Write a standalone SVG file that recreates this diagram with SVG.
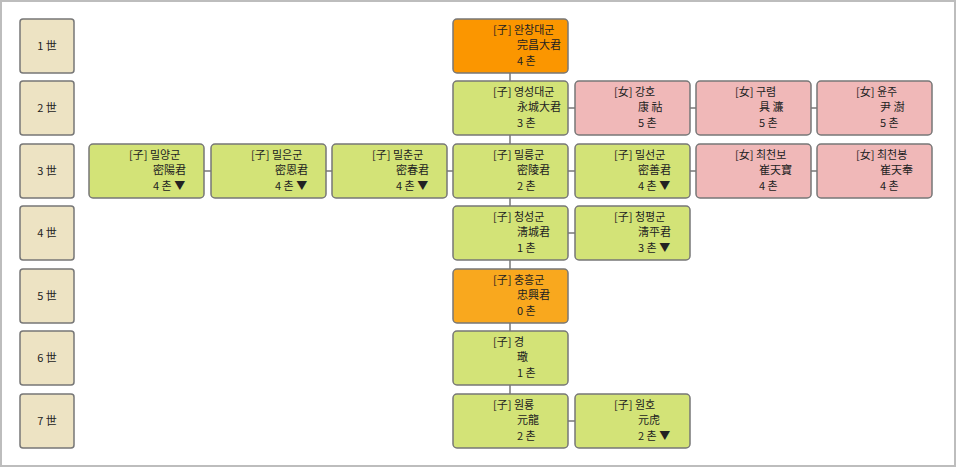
<svg xmlns="http://www.w3.org/2000/svg" width="956" height="467" viewBox="0 0 956 467">
<style>
text{font-family:"Noto Sans CJK KR","Noto Sans CJK SC",sans-serif;font-size:11px;fill:#222}
.g rect{fill:#EDE3C3;stroke:#777;stroke-width:1.5}
.n rect{stroke:#777;stroke-width:1.5}
.gr rect{fill:#D3E377}
.pk rect{fill:#F0B8B8}
.c line{stroke:#777;stroke-width:1.5}
</style>
<rect x="1" y="1" width="954" height="465" fill="#fff" stroke="#BDBDBD" stroke-width="2"/>
<g class="c">
<line x1="510" y1="73" x2="510" y2="394"/>
<line x1="204" y1="171" x2="211" y2="171"/><line x1="326" y1="171" x2="332" y2="171"/><line x1="447" y1="171" x2="453" y2="171"/>
<line x1="568" y1="108" x2="932" y2="108"/><line x1="568" y1="171" x2="932" y2="171"/>
<line x1="568" y1="233" x2="575" y2="233"/><line x1="568" y1="421" x2="575" y2="421"/>
</g>
<g class="g" id="gen1"><rect x="20" y="19" width="54" height="54" rx="3"/><text x="47" y="50" text-anchor="middle">1 世</text></g>
<g class="g" id="gen2"><rect x="20" y="81" width="54" height="54" rx="3"/><text x="47" y="112" text-anchor="middle">2 世</text></g>
<g class="g" id="gen3"><rect x="20" y="144" width="54" height="54" rx="3"/><text x="47" y="175" text-anchor="middle">3 世</text></g>
<g class="g" id="gen4"><rect x="20" y="206" width="54" height="54" rx="3"/><text x="47" y="237" text-anchor="middle">4 世</text></g>
<g class="g" id="gen5"><rect x="20" y="269" width="54" height="54" rx="3"/><text x="47" y="300" text-anchor="middle">5 世</text></g>
<g class="g" id="gen6"><rect x="20" y="331" width="54" height="54" rx="3"/><text x="47" y="362" text-anchor="middle">6 世</text></g>
<g class="g" id="gen7"><rect x="20" y="394" width="54" height="54" rx="3"/><text x="47" y="425" text-anchor="middle">7 世</text></g>

<g class="n" id="n1"><rect x="453" y="19" width="115" height="54" rx="4" fill="#FB9600"/><text x="493" y="34">[子] 완창대군</text><text x="517" y="49">完昌大君</text><text x="517" y="65">4 촌</text></g>
<g class="n gr" id="n2"><rect x="453" y="81" width="115" height="54" rx="4"/><text x="493" y="96">[子] 영성대군</text><text x="517" y="111">永城大君</text><text x="517" y="127">3 촌</text></g>
<g class="n pk" id="n3"><rect x="575" y="81" width="115" height="54" rx="4"/><text x="614" y="96">[女] 강호</text><text x="638" y="111">康 祜</text><text x="638" y="127">5 촌</text></g>
<g class="n pk" id="n4"><rect x="696" y="81" width="115" height="54" rx="4"/><text x="735" y="96">[女] 구렴</text><text x="759" y="111">具 濂</text><text x="759" y="127">5 촌</text></g>
<g class="n pk" id="n5"><rect x="817" y="81" width="115" height="54" rx="4"/><text x="856" y="96">[女] 윤주</text><text x="880" y="111">尹 澍</text><text x="880" y="127">5 촌</text></g>

<g class="n gr" id="n6"><rect x="89" y="144" width="115" height="54" rx="4"/><text x="129" y="159">[子] 밀양군</text><text x="153" y="174">密陽君</text><text x="153" y="190">4 촌 ▼</text></g>
<g class="n gr" id="n7"><rect x="211" y="144" width="115" height="54" rx="4"/><text x="251" y="159">[子] 밀은군</text><text x="275" y="174">密恩君</text><text x="275" y="190">4 촌 ▼</text></g>
<g class="n gr" id="n8"><rect x="332" y="144" width="115" height="54" rx="4"/><text x="372" y="159">[子] 밀춘군</text><text x="396" y="174">密春君</text><text x="396" y="190">4 촌 ▼</text></g>
<g class="n gr" id="n9"><rect x="453" y="144" width="115" height="54" rx="4"/><text x="493" y="159">[子] 밀릉군</text><text x="517" y="174">密陵君</text><text x="517" y="190">2 촌</text></g>
<g class="n gr" id="n10"><rect x="575" y="144" width="115" height="54" rx="4"/><text x="614" y="159">[子] 밀선군</text><text x="638" y="174">密善君</text><text x="638" y="190">4 촌 ▼</text></g>
<g class="n pk" id="n11"><rect x="696" y="144" width="115" height="54" rx="4"/><text x="735" y="159">[女] 최천보</text><text x="759" y="174">崔天寶</text><text x="759" y="190">4 촌</text></g>
<g class="n pk" id="n12"><rect x="817" y="144" width="115" height="54" rx="4"/><text x="856" y="159">[女] 최천봉</text><text x="880" y="174">崔天奉</text><text x="880" y="190">4 촌</text></g>

<g class="n gr" id="n13"><rect x="453" y="206" width="115" height="54" rx="4"/><text x="493" y="221">[子] 청성군</text><text x="517" y="236">淸城君</text><text x="517" y="252">1 촌</text></g>
<g class="n gr" id="n14"><rect x="575" y="206" width="115" height="54" rx="4"/><text x="614" y="221">[子] 청평군</text><text x="638" y="236">淸平君</text><text x="638" y="252">3 촌 ▼</text></g>
<g class="n" id="n15"><rect x="453" y="269" width="115" height="54" rx="4" fill="#F9A81E"/><text x="493" y="284">[子] 충흥군</text><text x="517" y="299">忠興君</text><text x="517" y="315">0 촌</text></g>
<g class="n gr" id="n16"><rect x="453" y="331" width="115" height="54" rx="4"/><text x="493" y="346">[子] 경</text><text x="517" y="361">璥</text><text x="517" y="377">1 촌</text></g>
<g class="n gr" id="n17"><rect x="453" y="394" width="115" height="54" rx="4"/><text x="493" y="409">[子] 원룡</text><text x="517" y="424">元龍</text><text x="517" y="440">2 촌</text></g>
<g class="n gr" id="n18"><rect x="575" y="394" width="115" height="54" rx="4"/><text x="614" y="409">[子] 원호</text><text x="638" y="424">元虎</text><text x="638" y="440">2 촌 ▼</text></g>
</svg>
